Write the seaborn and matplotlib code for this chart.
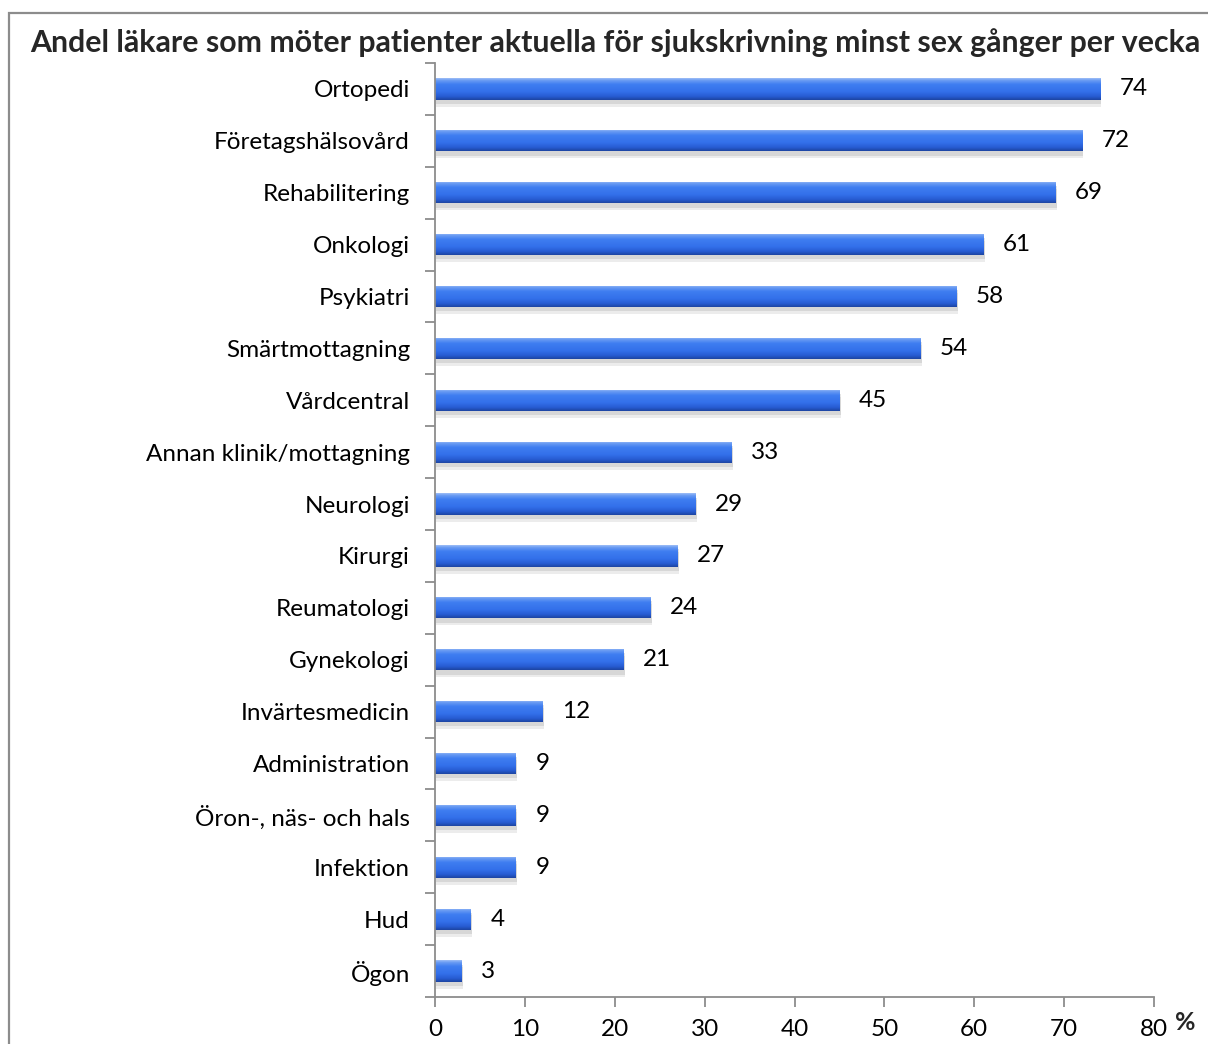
import numpy as np
import pandas as pd
import matplotlib
matplotlib.use("Agg")
import matplotlib.pyplot as plt
import matplotlib.patheffects as pe
from matplotlib.patches import Rectangle
from matplotlib.colors import to_rgb
import seaborn as sns

categories = [
    "Ortopedi", "Företagshälsovård", "Rehabilitering", "Onkologi", "Psykiatri",
    "Smärtmottagning", "Vårdcentral", "Annan klinik/mottagning", "Neurologi",
    "Kirurgi", "Reumatologi", "Gynekologi", "Invärtesmedicin", "Administration",
    "Öron-, näs- och hals", "Infektion", "Hud", "Ögon",
]
values = [74, 72, 69, 61, 58, 54, 45, 33, 29, 27, 24, 21, 12, 9, 9, 9, 4, 3]
x_ticks = [0, 10, 20, 30, 40, 50, 60, 70, 80]
title = "Andel läkare som möter patienter aktuella för sjukskrivning minst sex gånger per vecka"

sns.set_theme(style="white")
plt.rcParams["font.family"] = ["Lato", "DejaVu Sans"]

df = pd.DataFrame({"kategori": categories, "andel": values})

W, H = 1208, 1044
fig = plt.figure(figsize=(W / 100, H / 100), dpi=100)
fig.patch.set_facecolor("white")
ax = fig.add_axes([435 / W, 1 - 997 / H, (1154 - 435) / W, (997 - 63) / H])

sns.barplot(data=df, x="andel", y="kategori", orient="h", color="#3a78ec",
            width=0.41, ax=ax, saturation=1, linewidth=0)

# vertical shading of each bar: light top rim, saturated body, dark lower edge
stops = [(0.0, "#9dbdf6"), (0.1, "#6a9cf3"), (0.28, "#3f7ef1"), (0.62, "#3370ea"),
         (0.84, "#275cd2"), (1.0, "#1d45a2")]
n = 64
pos = np.linspace(0, 1, n)
sp = [s[0] for s in stops]
cols = np.array([to_rgb(s[1]) for s in stops])
grad = np.stack([np.interp(pos, sp, cols[:, k]) for k in range(3)], axis=-1)
grad = grad[:, None, :]

for patch in ax.patches:
    patch.set_path_effects([
        pe.SimplePatchShadow(offset=(1, -5), shadow_rgbFace="#9a9a9a", alpha=0.18),
        pe.SimplePatchShadow(offset=(1, -3), shadow_rgbFace="#9a9a9a", alpha=0.25),
        pe.Normal(),
    ])
    x0, y0 = patch.get_x(), patch.get_y()
    w, h = patch.get_width(), patch.get_height()
    im = ax.imshow(grad, extent=[x0, x0 + w, y0 + h, y0], aspect="auto",
                   interpolation="bilinear", zorder=patch.get_zorder() + 0.1)
    im.set_clip_path(patch)

for cont in ax.containers:
    labels = ax.bar_label(cont, labels=[str(v) for v in values], padding=14,
                          fontsize=17.5, color="black")

ax.set_xlim(0, 80)
ax.set_ylim(len(categories) - 0.5, -0.5)
ax.set_aspect("auto")
ax.set_xticks(x_ticks)
ax.set_xticklabels([str(t) for t in x_ticks])
ax.set_yticks(range(len(categories)))
ax.set_yticks(np.arange(-0.5, len(categories)), minor=True)
ax.set_xlabel("")
ax.set_ylabel("")

axis_col = "#8c8c8c"
for s in ["top", "right"]:
    ax.spines[s].set_visible(False)
for s in ["left", "bottom"]:
    ax.spines[s].set_color(axis_col)
    ax.spines[s].set_linewidth(1.3)

ax.tick_params(axis="y", which="major", length=0, pad=18, labelsize=17.5, labelcolor="black")
ax.tick_params(axis="y", which="minor", length=7, width=1.3, color=axis_col, left=True, direction="out")
ax.tick_params(axis="x", which="major", length=7, width=1.3, color=axis_col, bottom=True,
               direction="out", pad=9, labelsize=17.5, labelcolor="black")
ax.grid(False)

fig.text(1185 / W, 1 - 1022 / H, "%", fontsize=18, fontweight="bold", ha="center", va="center")
fig.text(30 / W, 1 - 43 / H, title, fontsize=21.8, fontweight="bold", ha="left", va="center")

fig.add_artist(Rectangle((8.5 / W, -0.1), 1.2, (1044 - 12.5) / H + 0.1, transform=fig.transFigure,
                         fill=False, edgecolor="#8c8c8c", linewidth=1.6))

fig.savefig("out.png", dpi=100)
